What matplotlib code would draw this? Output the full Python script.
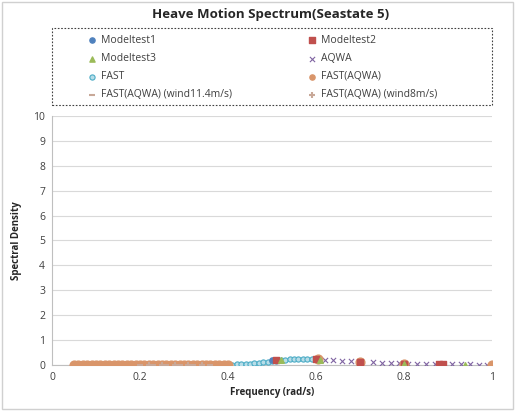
import matplotlib.pyplot as plt

plt.rcParams['font.family'] = ['Open Sans', 'DejaVu Sans']

# Modeltest points
mt1_x = [0.50, 0.60, 0.70, 0.80, 0.88]
mt1_y = [0.20, 0.22, 0.12, 0.05, 0.02]
mt2_x = [0.51, 0.60, 0.70, 0.80, 0.88, 0.89]
mt2_y = [0.21, 0.23, 0.13, 0.05, 0.03, 0.02]
mt3_x = [0.52, 0.61, 0.80, 0.94]
mt3_y = [0.20, 0.21, 0.05, 0.01]

# AQWA
aqwa_x = [0.62, 0.64, 0.66, 0.68, 0.70, 0.73, 0.75, 0.77, 0.79, 0.81, 0.83,
          0.85, 0.87, 0.89, 0.91, 0.93, 0.95, 0.97, 0.99]
aqwa_y = [0.20, 0.18, 0.16, 0.14, 0.12, 0.10, 0.08, 0.07, 0.06, 0.05, 0.04,
          0.04, 0.03, 0.03, 0.02, 0.02, 0.02, 0.01, 0.01]

# FAST
fast_x = [0.40, 0.41, 0.42, 0.43, 0.44, 0.45, 0.46, 0.47, 0.48, 0.49, 0.50,
          0.51, 0.52, 0.53, 0.54, 0.55, 0.56, 0.57, 0.58, 0.59, 0.60]
fast_y = [0.00, 0.01, 0.02, 0.03, 0.04, 0.05, 0.07, 0.09, 0.11, 0.13, 0.15,
          0.17, 0.19, 0.21, 0.22, 0.23, 0.24, 0.25, 0.25, 0.25, 0.24]

# FAST(AQWA)
fa_x = [0.05, 0.06, 0.07, 0.08, 0.09, 0.10, 0.11, 0.12, 0.13, 0.14, 0.15,
        0.16, 0.17, 0.18, 0.19, 0.20, 0.21, 0.22, 0.23, 0.24, 0.25, 0.26,
        0.27, 0.28, 0.29, 0.30, 0.31, 0.32, 0.33, 0.34, 0.35, 0.36, 0.37,
        0.38, 0.39, 0.40, 0.605, 0.70, 0.80, 1.00]
fa_y = [0.00] * 36 + [0.22, 0.12, 0.05, 0.01]

# FAST(AQWA) wind cases
w11_x = [0.20, 0.23, 0.26, 0.29, 0.32, 0.36]
w11_y = [0.00, 0.00, 0.00, 0.00, 0.00, 0.00]
w8_x = [0.22, 0.25, 0.28, 0.31, 0.34]
w8_y = [0.00, 0.00, 0.00, 0.00, 0.00]

fig = plt.figure(figsize=(5.15, 4.11), dpi=100)
ax = fig.add_axes([0.101, 0.112, 0.854, 0.606])

h = []
h.append(ax.scatter(mt1_x, mt1_y, marker='o', s=14, color='#4F81BD', zorder=5, label='Modeltest1'))
h.append(ax.scatter(mt2_x, mt2_y, marker='s', s=16, color='#C0504D', zorder=5, label='Modeltest2'))
h.append(ax.scatter(mt3_x, mt3_y, marker='^', s=16, color='#9BBB59', zorder=5, label='Modeltest3'))
h.append(ax.scatter(aqwa_x, aqwa_y, marker='x', s=14, color='#8064A2', linewidths=0.8, zorder=3, label='AQWA'))
h.append(ax.scatter(fast_x, fast_y, marker='o', s=14, facecolors='#B7DDE8', edgecolors='#4BACC6',
                    linewidths=0.8, zorder=3, label='FAST'))
h.append(ax.scatter(fa_x, fa_y, marker='o', s=40, color='#D9956A', zorder=4, label='FAST(AQWA)'))
h.append(ax.scatter(w11_x, w11_y, marker='_', s=20, color='#C8A898', zorder=4,
                    label='FAST(AQWA) (wind11.4m/s)'))
h.append(ax.scatter(w8_x, w8_y, marker='+', s=20, color='#C8A898', zorder=4,
                    label='FAST(AQWA) (wind8m/s)'))

ax.set_xlim(0, 1)
ax.set_ylim(0, 10)
ax.set_xticks([0, 0.2, 0.4, 0.6, 0.8, 1])
ax.set_xticklabels(['0', '0.2', '0.4', '0.6', '0.8', '1'])
ax.set_yticks(range(0, 11))
ax.grid(axis='y', color='#D9D9D9', linewidth=0.8)
ax.set_axisbelow(True)
for s in ['top', 'right']:
    ax.spines[s].set_visible(False)
for s in ['left', 'bottom']:
    ax.spines[s].set_color('#BFBFBF')
ax.tick_params(axis='both', length=0, labelsize=7.5, colors='#404040', pad=5)
ax.set_xlabel('Frequency (rad/s)', fontsize=7, fontweight='bold', color='#262626', labelpad=3)
ax.set_ylabel('Spectral Density', fontsize=7, fontweight='bold', color='#262626', labelpad=8)

fig.text(0.525, 0.965, 'Heave Motion Spectrum(Seastate 5)', ha='center', va='center',
         fontsize=9.5, fontweight='bold', color='#262626')

# legend filled row by row like the original
order = [0, 2, 4, 6, 1, 3, 5, 7]
leg = fig.legend(handles=[h[i] for i in order], ncol=2, loc='center',
                 bbox_to_anchor=(0.506, 0.835), fontsize=7.5, frameon=False,
                 handletextpad=0.1, labelspacing=0.68, columnspacing=7.0, handlelength=1.5)
for lh in leg.legend_handles:
    lh.set_sizes([14])
for t in leg.get_texts():
    t.set_color('#404040')

box = plt.Rectangle((0.101, 0.745), 0.854, 0.188, transform=fig.transFigure, fill=False,
                    edgecolor='#404040', linewidth=0.8, linestyle=(0, (1.5, 1.5)))
fig.patches.append(box)

border = plt.Rectangle((0.004, 0.004), 0.992, 0.992, transform=fig.transFigure, fill=False,
                       edgecolor='#D0D0D0', linewidth=1)
fig.patches.append(border)

fig.savefig('out.png', dpi=100)
